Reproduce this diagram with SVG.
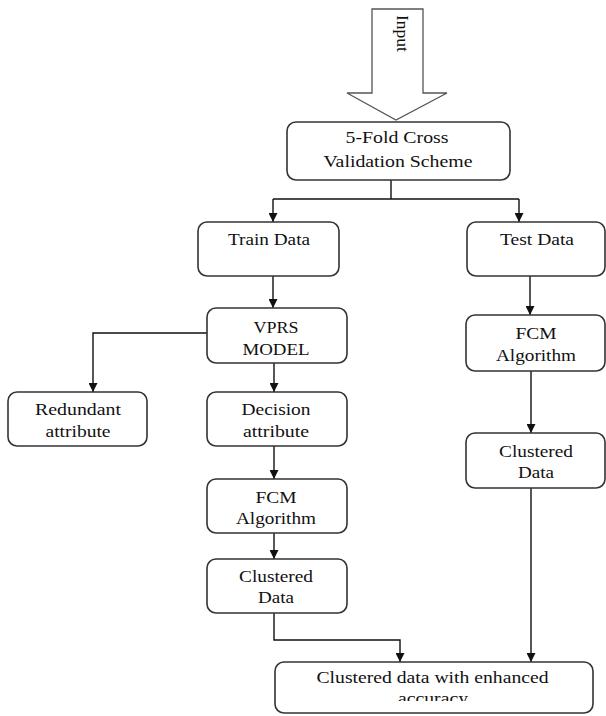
<svg xmlns="http://www.w3.org/2000/svg" width="606" height="716" viewBox="0 0 606 716">
<style>
.box{fill:#fff;stroke:#333;stroke-width:1.6}
.t{font-family:"Liberation Serif","Times New Roman",serif;font-size:16px;fill:#111;text-anchor:middle}
.c{fill:none;stroke:#111;stroke-width:1.4}
</style>
<defs>
<marker id="ah" viewBox="0 0 10 10" refX="10" refY="5" markerWidth="9" markerHeight="9" markerUnits="userSpaceOnUse" orient="auto">
<path d="M0,0 L10,5 L0,10 z" fill="#111"/>
</marker>
<clipPath id="clipb"><rect x="0" y="0" width="606" height="701"/></clipPath>
</defs>
<rect width="606" height="716" fill="#fff"/>
<g id="input">
<polygon points="372,9 423,9 423,93 447,93 396,120 347,93 372,93" fill="#fff" stroke="#555" stroke-width="1.3"/>
<text class="t" transform="translate(397,33.5) rotate(90)" textLength="37" lengthAdjust="spacingAndGlyphs">Input</text>
</g>
<g id="connectors">
<path class="c" d="M391,180 V199 M273,199 H519"/>
<path class="c" d="M273,199 V222" marker-end="url(#ah)"/>
<path class="c" d="M519,199 V222" marker-end="url(#ah)"/>
<path class="c" d="M273,276 V308" marker-end="url(#ah)"/>
<path class="c" d="M207,333 H93 V392" marker-end="url(#ah)"/>
<path class="c" d="M274,363 V392" marker-end="url(#ah)"/>
<path class="c" d="M274,446 V479" marker-end="url(#ah)"/>
<path class="c" d="M274,533 V559" marker-end="url(#ah)"/>
<path class="c" d="M274,613 V640 H400 V662" marker-end="url(#ah)"/>
<path class="c" d="M530,276 V315" marker-end="url(#ah)"/>
<path class="c" d="M531,371 V433" marker-end="url(#ah)"/>
<path class="c" d="M531,488 V662" marker-end="url(#ah)"/>
</g>
<g id="cv">
<rect class="box" x="287" y="122" width="223" height="58" rx="9"/>
<text class="t" x="397" y="143" textLength="103" lengthAdjust="spacingAndGlyphs">5-Fold Cross</text>
<text class="t" x="398" y="167" textLength="149" lengthAdjust="spacingAndGlyphs">Validation Scheme</text>
</g>
<g id="train">
<rect class="box" x="198" y="222" width="141" height="54" rx="9"/>
<text class="t" x="269" y="245" textLength="82" lengthAdjust="spacingAndGlyphs">Train Data</text>
</g>
<g id="test">
<rect class="box" x="467" y="222" width="138" height="54" rx="9"/>
<text class="t" x="537" y="245" textLength="74" lengthAdjust="spacingAndGlyphs">Test Data</text>
</g>
<g id="vprs">
<rect class="box" x="207" y="308" width="140" height="55" rx="9"/>
<text class="t" x="276" y="333" textLength="45" lengthAdjust="spacingAndGlyphs">VPRS</text>
<text class="t" x="276" y="355" textLength="67" lengthAdjust="spacingAndGlyphs">MODEL</text>
</g>
<g id="redundant">
<rect class="box" x="8" y="392" width="139" height="54" rx="9"/>
<text class="t" x="78" y="415" textLength="86" lengthAdjust="spacingAndGlyphs">Redundant</text>
<text class="t" x="78" y="437" textLength="65" lengthAdjust="spacingAndGlyphs">attribute</text>
</g>
<g id="decision">
<rect class="box" x="207" y="392" width="140" height="54" rx="9"/>
<text class="t" x="276" y="415" textLength="69" lengthAdjust="spacingAndGlyphs">Decision</text>
<text class="t" x="276" y="437" textLength="66" lengthAdjust="spacingAndGlyphs">attribute</text>
</g>
<g id="fcm1">
<rect class="box" x="207" y="479" width="140" height="54" rx="9"/>
<text class="t" x="276" y="503" textLength="41" lengthAdjust="spacingAndGlyphs">FCM</text>
<text class="t" x="276" y="524" textLength="80" lengthAdjust="spacingAndGlyphs">Algorithm</text>
</g>
<g id="clustered1">
<rect class="box" x="207" y="559" width="140" height="54" rx="9"/>
<text class="t" x="276" y="582" textLength="74" lengthAdjust="spacingAndGlyphs">Clustered</text>
<text class="t" x="276" y="603" textLength="36" lengthAdjust="spacingAndGlyphs">Data</text>
</g>
<g id="fcm2">
<rect class="box" x="466" y="315" width="139" height="56" rx="9"/>
<text class="t" x="536" y="339" textLength="41" lengthAdjust="spacingAndGlyphs">FCM</text>
<text class="t" x="536" y="361" textLength="80" lengthAdjust="spacingAndGlyphs">Algorithm</text>
</g>
<g id="clustered2">
<rect class="box" x="466" y="433" width="139" height="55" rx="9"/>
<text class="t" x="536" y="457" textLength="74" lengthAdjust="spacingAndGlyphs">Clustered</text>
<text class="t" x="536" y="478" textLength="36" lengthAdjust="spacingAndGlyphs">Data</text>
</g>
<g id="result">
<rect class="box" x="275" y="662" width="318" height="51" rx="9"/>
<text class="t" x="432.5" y="683" textLength="232" lengthAdjust="spacingAndGlyphs">Clustered data with enhanced</text>
<text class="t" x="433" y="704" textLength="70" lengthAdjust="spacingAndGlyphs" clip-path="url(#clipb)">accuracy</text>
</g>
</svg>
